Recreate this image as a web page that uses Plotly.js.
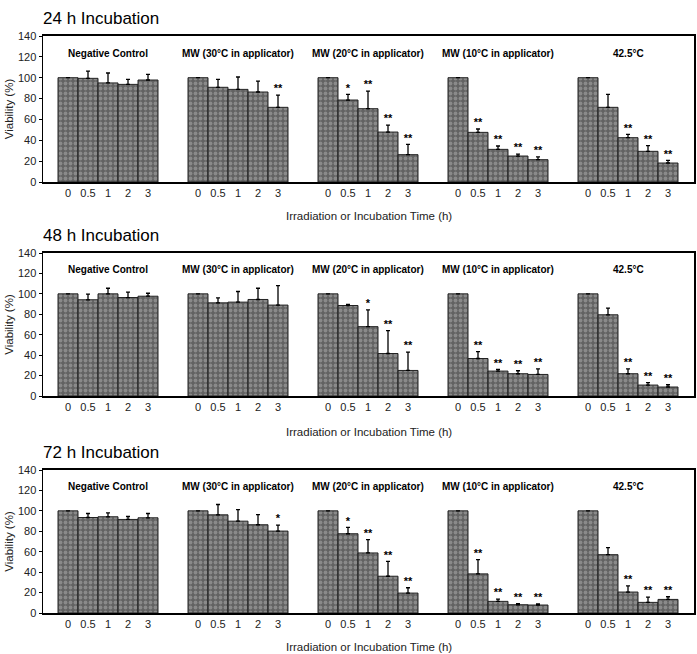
<!DOCTYPE html>
<html>
<head>
<meta charset="utf-8">
<script src="https://cdn.plot.ly/plotly-3.0.1.min.js"></script>
<style>body{margin:0;background:#fff}</style>
</head>
<body>
<div id="chart" style="width:697px;height:654px"></div>
<script>
// time points and treatment groups
var times = ['0', '0.5', '1', '2', '3'];
var groups = ['Negative Control', 'MW (30°C in applicator)', 'MW (20°C in applicator)', 'MW (10°C in applicator)', '42.5°C'];
var panelTitles = ['24 h Incubation', '48 h Incubation', '72 h Incubation'];

// viability (%) per group, 5 time points each; null = no error bar
var via24 = [100, 99.4, 95, 93.6, 97.8,  100, 90.8, 88.8, 86.3, 71.6,  100, 78.6, 70.3, 47.9, 26.2,  100, 47.6, 31.3, 24.9, 21.4,  100, 71.6, 42.5, 29.4, 18.2];
var err24 = [null, 7, 9.5, 4.8, 5.4,  null, 7.6, 11.9, 10.5, 11.8,  null, 5.4, 16.9, 6.7, 9.9,  null, 3.2, 3.2, 1.9, 2.6,  null, 12.4, 3.2, 5.4, 2.6];
var sig24 = ['', '', '', '', '',  '', '', '', '', '**',  '', '*', '**', '**', '**',  '', '**', '**', '**', '**',  '', '', '**', '**', '**'];

var via48 = [100, 94.2, 100, 96.4, 97.7,  100, 91.2, 91.9, 94.5, 89,  100, 88.6, 67.9, 41.6, 25,  100, 36.7, 24.4, 21.8, 21.1,  100, 79.5, 21.8, 10.7, 8.8];
var err48 = [null, 5.5, 5.5, 5.2, 2.9,  null, 4.9, 10.4, 11, 19.1,  null, 1, 16.5, 22.4, 17.9,  null, 6.8, 1.6, 2.9, 5.5,  null, 6.5, 4.8, 2.3, 2.2];
var sig48 = ['', '', '', '', '',  '', '', '', '', '',  '', '', '*', '**', '**',  '', '**', '**', '**', '**',  '', '', '**', '**', '**'];

var via72 = [100, 93.5, 94.2, 91.6, 93.2,  100, 96.1, 89.9, 86.4, 80.2,  100, 77.6, 58.8, 36, 19.5,  100, 38.3, 11.4, 8.1, 7.8,  100, 57.1, 20.5, 10.4, 13.3];
var err72 = [null, 3.9, 3.9, 2.9, 4.2,  null, 10.1, 11.4, 10, 5.8,  null, 6.2, 13, 14.6, 5.2,  null, 14, 2.2, 1, 1,  null, 6.9, 6.1, 5.2, 2.6];
var sig72 = ['', '', '', '', '',  '', '', '', '', '*',  '', '*', '**', '**', '**',  '', '**', '**', '**', '**',  '', '', '**', '**', '**'];

var FONT = 'Arial, "Liberation Sans", sans-serif';
var GROUP_STEP = 6.5;

// bar positions: 5 bars per group, a gap between groups
var xpos = [], xlabels = [];
groups.forEach(function (g, gi) {
    times.forEach(function (t, ti) {
        xpos.push(gi * GROUP_STEP + ti);
        xlabels.push(t);
    });
});

var panels = [
    {v: via24, e: err24, s: sig24},
    {v: via48, e: err48, s: sig48},
    {v: via72, e: err72, s: sig72}
];

// pixel positions of each plot area (top, bottom) in the 654px figure
var H = 654;
var boxes = [[36, 182], [253, 396], [470, 613]];
var xtitleY = [216, 432, 647];
var titleY = [18, 235, 452];

var data = [];
var layout = {
    width: 697,
    height: 654,
    margin: {l: 43, r: 3, t: 0, b: 0},
    paper_bgcolor: '#fff',
    plot_bgcolor: '#fff',
    showlegend: false,
    font: {family: FONT, color: '#000'},
    annotations: []
};

panels.forEach(function (p, i) {
    var n = i === 0 ? '' : String(i + 1);
    var tops = p.v.map(function (v, k) { return v + (p.e[k] || 0); });

    data.push({
        type: 'bar',
        x: xpos,
        y: p.v,
        width: 1,
        xaxis: 'x' + n,
        yaxis: 'y' + n,
        marker: {
            color: '#666',
            line: {color: '#222', width: 1},
            pattern: {shape: '.', fgcolor: '#8a8a8a', bgcolor: '#626262', size: 5, solidity: 0.45}
        },
        error_y: {type: 'data', array: p.e, arrayminus: p.e.map(function () { return 0; }),
                  symmetric: false, color: '#000', thickness: 1.3, width: 2},
        hoverinfo: 'skip'
    });

    // significance marks above the error bars
    data.push({
        type: 'scatter',
        mode: 'text',
        x: xpos,
        y: tops,
        text: p.s,
        textposition: 'top center',
        textfont: {size: 11, family: FONT, color: '#000', weight: 'bold'},
        xaxis: 'x' + n,
        yaxis: 'y' + n,
        cliponaxis: false,
        hoverinfo: 'skip'
    });

    var b = boxes[i];
    layout['xaxis' + n] = {
        anchor: 'y' + n,
        domain: [0, 1],
        range: [-1.25, 31.3],
        tickvals: xpos,
        ticktext: xlabels,
        ticks: '',
        showgrid: false,
        zeroline: false,
        showline: true,
        linecolor: '#000',
        linewidth: 2,
        mirror: true,
        tickfont: {size: 11, family: FONT, color: '#222'},
        fixedrange: true
    };
    layout['yaxis' + n] = {
        anchor: 'x' + n,
        domain: [1 - b[1] / H, 1 - b[0] / H],
        range: [0, 140],
        dtick: 20,
        ticks: 'outside',
        ticklen: 3,
        tickcolor: '#000',
        showgrid: false,
        zeroline: false,
        showline: true,
        linecolor: '#000',
        linewidth: 1.5,
        mirror: true,
        tickfont: {size: 11, family: FONT, color: '#222'},
        title: {text: 'Viability (%)', font: {size: 11.5, family: FONT, color: '#222'}, standoff: 2},
        fixedrange: true
    };

    // panel heading
    layout.annotations.push({
        xref: 'paper', yref: 'paper',
        x: -0.003, y: 1 - titleY[i] / H,
        xanchor: 'left', yanchor: 'middle',
        text: panelTitles[i],
        showarrow: false,
        font: {size: 17, family: FONT, color: '#000'}
    });
    // x axis title
    layout.annotations.push({
        xref: 'paper', yref: 'paper',
        x: 0.5, y: 1 - xtitleY[i] / H,
        xanchor: 'center', yanchor: 'middle',
        text: 'Irradiation or Incubation Time (h)',
        showarrow: false,
        font: {size: 11.5, family: FONT, color: '#222'}
    });
    // group labels inside the plot
    groups.forEach(function (g, gi) {
        layout.annotations.push({
            xref: 'x' + n, yref: 'y' + n,
            x: gi * GROUP_STEP + 2, y: 123.5,
            text: '<b>' + g + '</b>',
            showarrow: false,
            font: {size: 10, family: FONT, color: '#000'}
        });
    });
});

Plotly.newPlot('chart', data, layout, {staticPlot: true});
</script>
</body>
</html>
